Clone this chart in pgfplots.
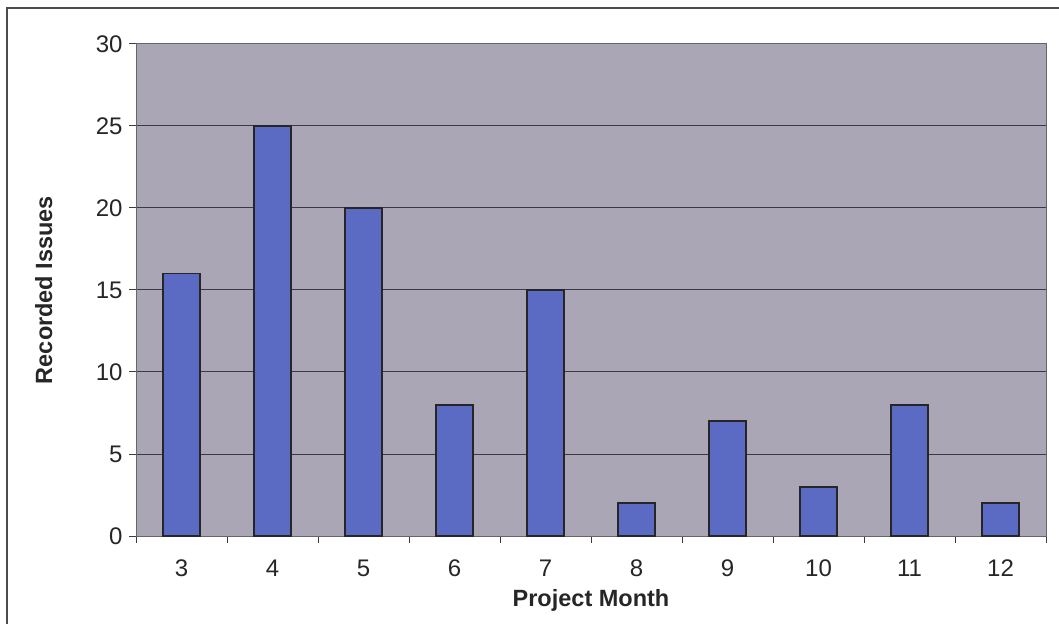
\documentclass[border=0pt]{standalone}
\usepackage{pgfplots}
\pgfplotsset{compat=1.18}
\usepackage{fontspec}
\setmainfont{Liberation Sans}
\definecolor{plotbg}{HTML}{ABA6B5}
\definecolor{barblue}{HTML}{5B6BC3}
\definecolor{gridc}{HTML}{3A3A40}
\begin{document}
\begin{tikzpicture}[x=1pt,y=1pt]
\path[use as bounding box] (0,0) rectangle (1059,624);
\draw[line width=2pt, black!70] (7,0) -- (7,616) -- (1059,616);
\begin{axis}[
  at={(136pt,88pt)}, anchor=south west,
  scale only axis, width=910pt, height=492pt,
  ymin=0, ymax=30, ytick={0,5,...,30},
  xmin=-0.5, xmax=9.5,
  xtick={0,...,9},
  xticklabels={3,4,5,6,7,8,9,10,11,12},
  major x tick style={draw=none},
  minor xtick={-0.5,0.5,...,9.5},
  xtick pos=bottom, ytick pos=left,
  minor tick length=7pt,
  major tick length=7pt,
  tick align=outside,
  tick style={gridc, line width=1pt},
  ymajorgrids,
  major grid style={gridc, line width=1pt},
  axis line style={gray!80!black, line width=1pt},
  axis background/.style={fill=plotbg},
  /pgf/number format/assume math mode=true,
  ticklabel style={font=\fontsize{24}{26}\selectfont, text=black!85},
  xticklabel style={yshift=-13pt},
  yticklabel style={xshift=-3pt},
  xlabel={Project Month},
  ylabel={Recorded Issues},
  label style={font=\fontsize{23.5}{26}\selectfont\bfseries, text=black!85},
  xlabel style={at={(axis description cs:0.5,-0.1443)}, anchor=base},
  ylabel style={at={(axis description cs:-0.0923,0.5)}, anchor=base},
  ybar, bar width=37pt,
]
\addplot[fill=barblue, draw=black!85, line width=1.6pt] coordinates {
  (0,16) (1,25) (2,20) (3,8) (4,15) (5,2) (6,7) (7,3) (8,8) (9,2)
};
\end{axis}
\end{tikzpicture}
\end{document}
